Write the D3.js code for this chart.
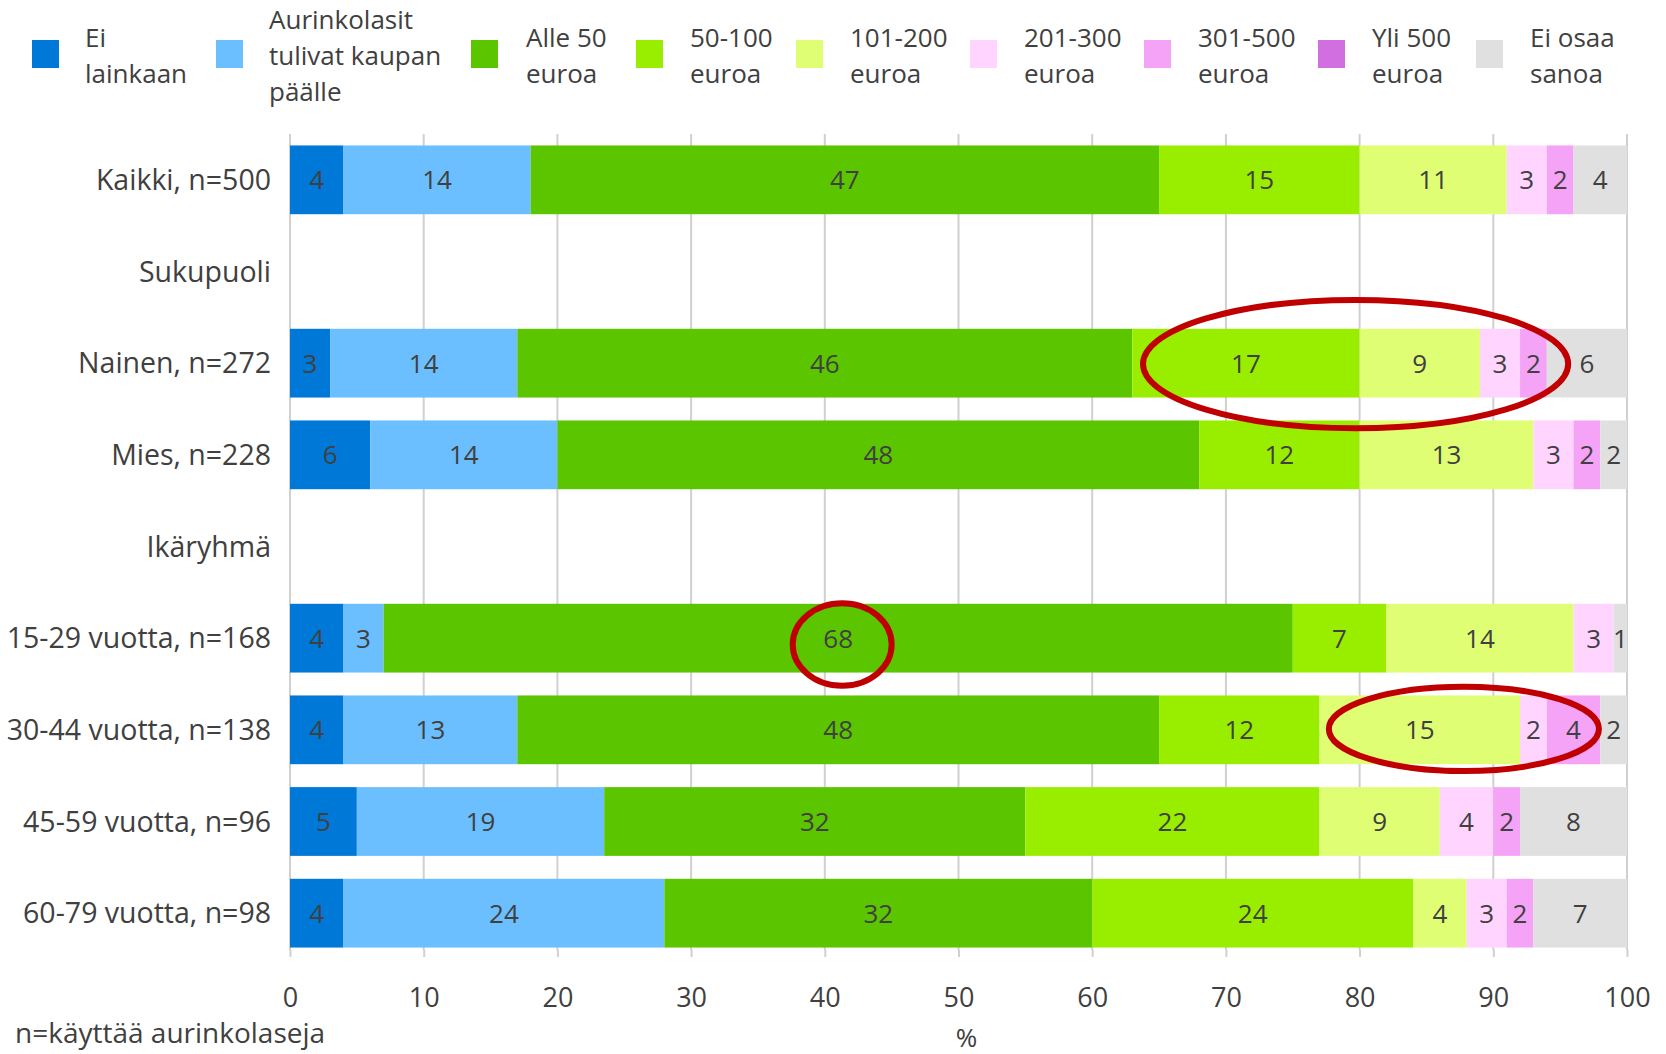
<!DOCTYPE html>
<html>
<head>
<meta charset="utf-8">
<script src="https://cdn.jsdelivr.net/npm/d3@7"></script>
<style>
  body { margin: 0; background: #fff; }
  svg text { font-family: "Open Sans", "Noto Sans", sans-serif; fill: #404040; }
</style>
</head>
<body>
<div id="chart"></div>
<script>
// categories (rows), top to bottom
var categories = ["Kaikki, n=500", "Sukupuoli", "Nainen, n=272", "Mies, n=228", "Ikäryhmä",
    "15-29 vuotta, n=168", "30-44 vuotta, n=138", "45-59 vuotta, n=96", "60-79 vuotta, n=98"];

// series, one value per row (null = heading row without bar)
var eiLainkaan   = [4,  null, 3,  6,  null, 4,  4,  5,    4];
var kaupanPaalle = [14, null, 14, 14, null, 3,  13, 18.5, 24];
var alle50       = [47, null, 46, 48, null, 68, 48, 31.5, 32];
var e50_100      = [15, null, 17, 12, null, 7,  12, 22,   24];
var e101_200     = [11, null, 9,  13, null, 14, 15, 9,    4];
var e201_300     = [3,  null, 3,  3,  null, 3,  2,  4,    3];
var e301_500     = [2,  null, 2,  2,  null, 0,  4,  2,    2];
var yli500       = [0,  null, 0,  0,  null, 0,  0,  0,    0];
var eiOsaa       = [4,  null, 6,  2,  null, 1,  2,  8,    7];

var seriesKeys = ["ei", "kaupan", "alle50", "e50", "e101", "e201", "e301", "yli500", "eiosaa"];
var seriesValues = [eiLainkaan, kaupanPaalle, alle50, e50_100, e101_200, e201_300, e301_500, yli500, eiOsaa];
var legendLabels = [["Ei", "lainkaan"], ["Aurinkolasit", "tulivat kaupan", "päälle"], ["Alle 50", "euroa"],
    ["50-100", "euroa"], ["101-200", "euroa"], ["201-300", "euroa"], ["301-500", "euroa"],
    ["Yli 500", "euroa"], ["Ei osaa", "sanoa"]];
var colors = ["#0078D7", "#6BBFFF", "#5BC500", "#99EE00", "#DFFE74", "#FFD5FF", "#F4A3F7", "#D16EE0", "#E0E0E0"];

var xTicks = [0, 10, 20, 30, 40, 50, 60, 70, 80, 90, 100];

// red highlight ellipses (row, centre in %, half width in %, half height as share of row step)
var highlights = [
    {row: "Nainen, n=272", cx: 79.7, rx: 15.9, ry: 0.70, dy: 0.01},
    {row: "15-29 vuotta, n=168", cx: 41.3, rx: 3.7, ry: 0.45, dy: 0.07},
    {row: "30-44 vuotta, n=138", cx: 87.8, rx: 10.1, ry: 0.46, dy: -0.01}
];

var W = 1666, H = 1054;
var svg = d3.select("#chart").append("svg").attr("width", W).attr("height", H);

var x = d3.scaleLinear().domain([0, 100]).range([290, 1627]);
var y = d3.scaleBand().domain(categories).range([134, 959]).paddingInner(0.25).paddingOuter(0.125);

// rows for stacking
var rows = categories.map(function(c, i) {
    var r = {cat: c, empty: eiLainkaan[i] === null};
    seriesKeys.forEach(function(k, j) { r[k] = seriesValues[j][i] || 0; });
    return r;
});
var stacked = d3.stack().keys(seriesKeys)(rows);

// gridlines
svg.append("g").selectAll("line").data(xTicks).join("line")
    .attr("x1", function(d) { return x(d); }).attr("x2", function(d) { return x(d); })
    .attr("y1", 134).attr("y2", 950)
    .attr("stroke", "#D0D0D0").attr("stroke-width", 2);

// x axis
var xAxis = svg.append("g").attr("transform", "translate(0,950)")
    .call(d3.axisBottom(x).tickValues(xTicks).tickSize(7).tickPadding(31));
xAxis.select(".domain").remove();
xAxis.selectAll(".tick line").attr("stroke", "#D0D0D0").attr("stroke-width", 2);
xAxis.selectAll(".tick text").attr("font-size", 27).style("fill", "#404040")
    .attr("font-family", "'Open Sans', sans-serif");

// bars
var layers = svg.append("g").selectAll("g").data(stacked).join("g")
    .attr("fill", function(d, i) { return colors[i]; });
layers.selectAll("rect").data(function(d) { return d.filter(function(p) { return !p.data.empty; }); })
    .join("rect")
    .attr("x", function(d) { return x(d[0]); })
    .attr("width", function(d) { return x(d[1]) - x(d[0]); })
    .attr("y", function(d) { return y(d.data.cat); })
    .attr("height", y.bandwidth());

// data labels
var labels = svg.append("g");
stacked.forEach(function(s) {
    s.forEach(function(p) {
        var v = p[1] - p[0];
        if (p.data.empty || v <= 0) return;
        labels.append("text")
            .attr("x", x((p[0] + p[1]) / 2))
            .attr("y", y(p.data.cat) + y.bandwidth() / 2)
            .attr("dy", "0.36em")
            .attr("text-anchor", "middle")
            .attr("font-size", 26)
            .text(Math.round(v));
    });
});

// category labels
svg.append("g").selectAll("text").data(categories).join("text")
    .attr("x", 271)
    .attr("y", function(d) { return y(d) + y.bandwidth() / 2; })
    .attr("dy", "0.36em")
    .attr("text-anchor", "end")
    .attr("font-size", 28.5)
    .text(function(d) { return d; });

// highlight ellipses
var step = y.step();
svg.append("g").selectAll("ellipse").data(highlights).join("ellipse")
    .attr("cx", function(d) { return x(d.cx); })
    .attr("cy", function(d) { return y(d.row) + y.bandwidth() / 2 + d.dy * step; })
    .attr("rx", function(d) { return x(d.cx + d.rx) - x(d.cx); })
    .attr("ry", function(d) { return d.ry * step; })
    .attr("fill", "none").attr("stroke", "#C00000").attr("stroke-width", 6);

// legend
var legendX = [32, 216, 471, 636, 796, 970, 1144, 1318, 1476];
var legendTextX = [85, 269, 526, 690, 850, 1024, 1198, 1372, 1530];
var legend = svg.append("g").selectAll("g").data(legendLabels).join("g");
legend.append("rect").attr("x", function(d, i) { return legendX[i]; }).attr("y", 40)
    .attr("width", 27).attr("height", 28)
    .attr("fill", function(d, i) { return colors[i]; });
legend.each(function(lines, i) {
    var g = d3.select(this);
    var top = 56 - (lines.length - 1) * 18;
    lines.forEach(function(t, k) {
        g.append("text").attr("x", legendTextX[i]).attr("y", top + k * 36).attr("dy", "0.36em")
            .attr("font-size", 26).text(t);
    });
});

// notes
svg.append("text").attr("x", 15).attr("y", 1033).attr("dy", "0.36em")
    .attr("font-size", 28).text("n=käyttää aurinkolaseja");
svg.append("text").attr("x", x(50) + 8).attr("y", 1038).attr("dy", "0.36em")
    .attr("text-anchor", "middle").attr("font-size", 26).text("%");
</script>
</body>
</html>
